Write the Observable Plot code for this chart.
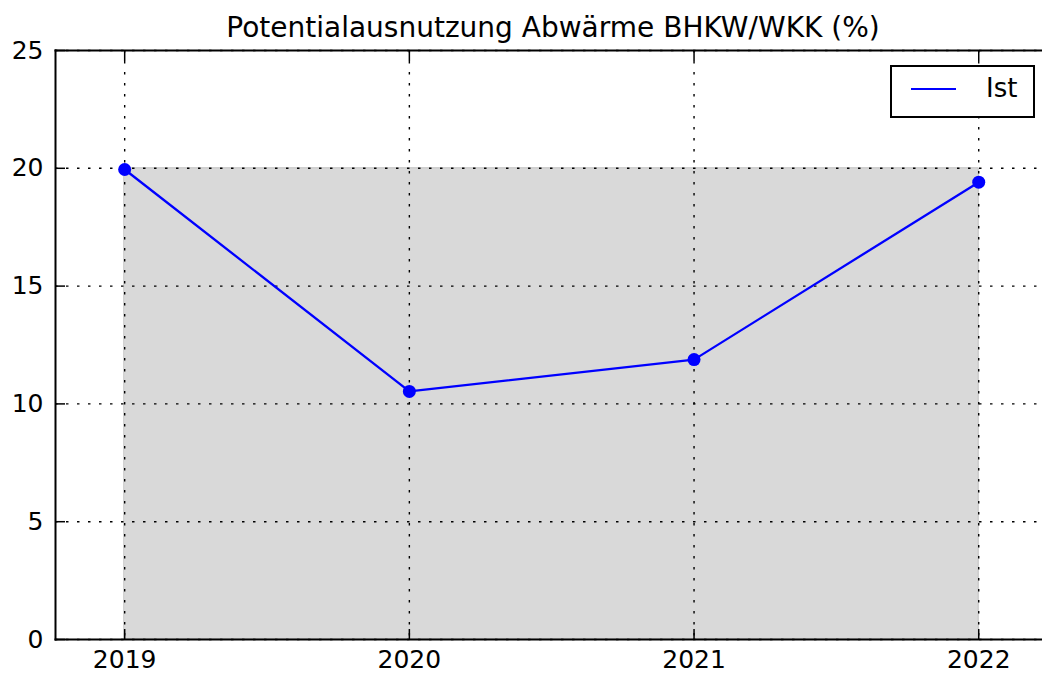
<!DOCTYPE html>
<html>
<head>
<meta charset="utf-8">
<script src="https://cdn.jsdelivr.net/npm/d3@7"></script>
<script src="https://cdn.jsdelivr.net/npm/@observablehq/plot@0.6"></script>
<style>
  html, body { margin: 0; padding: 0; background: #fff; overflow: hidden; }
  #wrap { position: relative; width: 1042px; height: 678px; }
  #legend { position: absolute; left: 890px; top: 65px; width: 141px; height: 49px;
            border: 2px solid #000; background: #fff; font-family: "DejaVu Sans"; }
  #legend .ln { position: absolute; left: 19px; top: 21px; width: 45px; height: 2px; background: #0000ff; }
  #legend .tx { position: absolute; left: 94px; top: 6px; font-size: 26px; color: #000; line-height: 30px; }
</style>
</head>
<body>
<div id="wrap"></div>
<script>
const title = "Potentialausnutzung Abwärme BHKW/WKK (%)";
const years = [2019, 2020, 2021, 2022];
const ist = [19.95, 10.53, 11.88, 19.41];
const potential = [20, 20, 20, 20];
const yTicks = [0, 5, 10, 15, 20, 25];
const seriesName = "Ist";

const rows = years.map((y, i) => ({year: y, ist: ist[i], potential: potential[i]}));

const chart = Plot.plot({
  width: 1042,
  height: 678,
  marginLeft: 55,
  marginRight: 0,
  marginTop: 50,
  marginBottom: 39,
  style: {fontFamily: "DejaVu Sans", fontSize: "25px", color: "#000", background: "#fff"},
  x: {domain: [2018.757, 2022.224], ticks: years, tickFormat: d => String(d), label: null},
  y: {domain: [0, 25], ticks: yTicks, label: null},
  marks: [
    Plot.areaY(rows, {x: "year", y1: 0, y2: "potential", fill: "#d9d9d9", stroke: "#c0c0c0", strokeWidth: 1}),
    Plot.gridX(years, {stroke: "#000", strokeOpacity: 1, strokeWidth: 1.4, strokeDasharray: "2.5,8.5"}),
    Plot.gridY(yTicks, {stroke: "#000", strokeOpacity: 1, strokeWidth: 1.4, strokeDasharray: "2.5,8.5"}),
    Plot.axisX({anchor: "bottom", ticks: years, tickSize: 0, tickPadding: 11, tickFormat: d => String(d), label: null}),
    Plot.axisX({anchor: "bottom", ticks: years, tickSize: 10, dy: -10, tickFormat: () => "", strokeWidth: 1.5, label: null}),
    Plot.axisX({anchor: "top", ticks: years, tickSize: 10, dy: 10, tickFormat: () => "", strokeWidth: 1.5, label: null}),
    Plot.axisY({anchor: "left", ticks: yTicks, tickSize: 0, tickPadding: 12, label: null}),
    Plot.axisY({anchor: "left", ticks: yTicks, tickSize: 10, dx: 10, tickFormat: () => "", strokeWidth: 1.5, label: null}),
    Plot.frame({anchor: "left", stroke: "#000", strokeWidth: 2}),
    Plot.frame({anchor: "top", stroke: "#000", strokeWidth: 2}),
    Plot.frame({anchor: "bottom", stroke: "#000", strokeWidth: 2}),
    Plot.line(rows, {x: "year", y: "ist", stroke: "#0000ff", strokeWidth: 2.3}),
    Plot.dot(rows, {x: "year", y: "ist", r: 6.5, fill: "#0000ff", stroke: "none"}),
    Plot.text([title], {frameAnchor: "top", text: d => d, dx: 4, dy: -22, fontSize: 28, lineAnchor: "middle", fill: "#000"})
  ]
});
const wrap = document.getElementById("wrap");
wrap.appendChild(chart);
const legend = document.createElement("div");
legend.id = "legend";
legend.innerHTML = '<div class="ln"></div><div class="tx"></div>';
legend.querySelector(".tx").textContent = seriesName;
wrap.appendChild(legend);
</script>
</body>
</html>
